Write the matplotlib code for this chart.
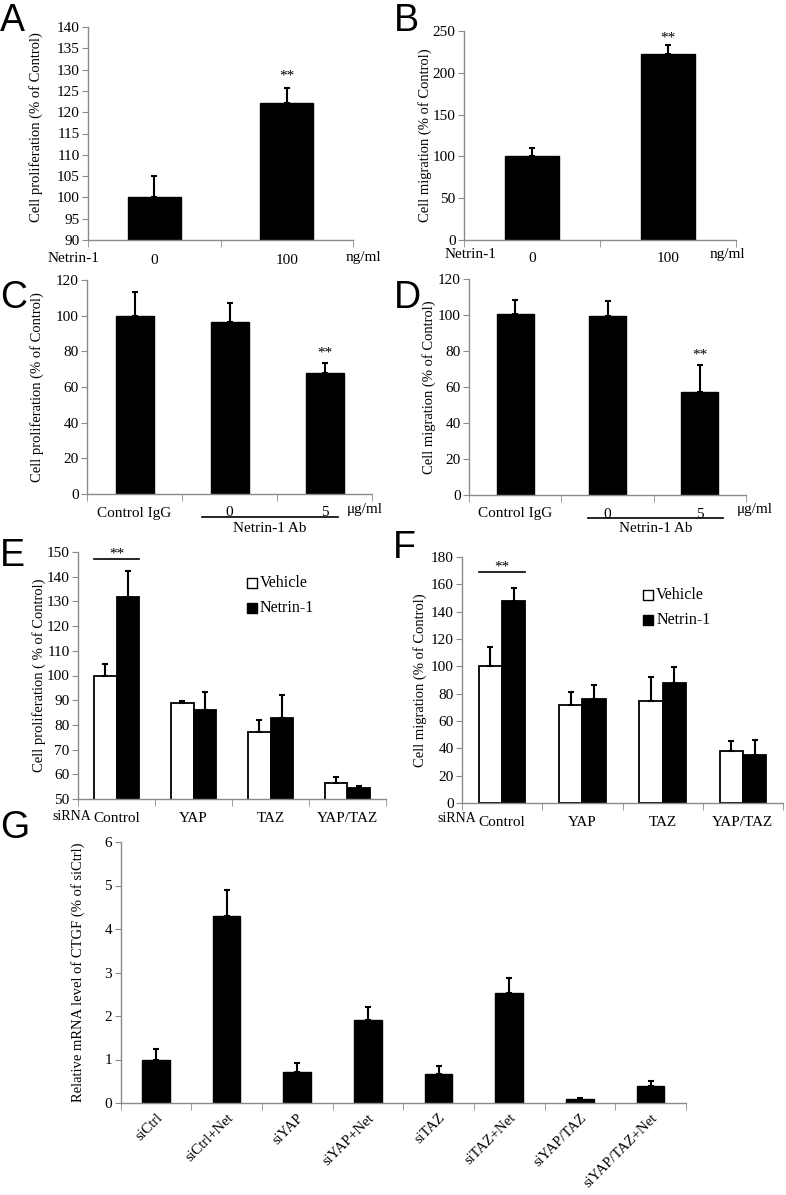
import matplotlib
matplotlib.use('Agg')
import matplotlib.pyplot as plt
import numpy as np

plt.rcParams['font.family'] = ['Liberation Serif', 'DejaVu Serif']

# ---------------- data ----------------
a_labels = ['0', '100']
a_vals = [100, 122.2]
a_err = [5.0, 3.4]

b_labels = ['0', '100']
b_vals = [100, 222]
b_err = [10, 11]

c_labels = ['Control IgG', '0', '5']
c_vals = [100, 96.5, 68]
c_err = [13, 10.5, 5.5]

d_labels = ['Control IgG', '0', '5']
d_vals = [100.3, 99.5, 57.5]
d_err = [8.3, 8.5, 14.5]

e_groups = ['Control', 'YAP', 'TAZ', 'YAP/TAZ']
e_vehicle = [100, 88.8, 77.2, 56.6]
e_vehicle_err = [4.7, 0.9, 4.6, 2.4]
e_netrin = [131.8, 86.1, 82.8, 54.6]
e_netrin_err = [10.5, 7.1, 9.5, 0.6]

f_groups = ['Control', 'YAP', 'TAZ', 'YAP/TAZ']
f_vehicle = [100, 71.5, 74.5, 37.8]
f_vehicle_err = [14, 9.5, 18, 7.5]
f_netrin = [147.5, 76.3, 87.8, 35.3]
f_netrin_err = [10, 10.2, 11.9, 10.7]

g_labels = ['siCtrl', 'siCtrl+Net', 'siYAP', 'siYAP+Net', 'siTAZ',
            'siTAZ+Net', 'siYAP/TAZ', 'siYAP/TAZ+Net']
g_vals = [1.0, 4.3, 0.72, 1.9, 0.66, 2.52, 0.1, 0.4]
g_err = [0.23, 0.6, 0.21, 0.31, 0.19, 0.36, 0.02, 0.11]

# ---------------- layout helpers ----------------
W, H = 786, 1195
fig = plt.figure(figsize=(W / 100, H / 100), dpi=100)
GRAY = '#8a8a8a'
TICK_FS = 11
LAB_FS = 10.5


def add_ax(l, t, r, b):
    return fig.add_axes([l / W, 1 - b / H, (r - l) / W, (b - t) / H])


def ftxt(x, y, s, **kw):
    kw.setdefault('ha', 'center')
    kw.setdefault('va', 'center')
    kw.setdefault('fontsize', TICK_FS)
    fig.text(x / W, 1 - y / H, s, **kw)


def fline(x1, x2, y):
    fig.add_artist(plt.Line2D([x1 / W, x2 / W], [1 - y / H, 1 - y / H],
                              color='black', lw=1.2))


def style(ax, n, labels, ylim, yticks, ylabel, lx, xpad=8, ly=0.5):
    for s in ['top', 'right']:
        ax.spines[s].set_visible(False)
    for s in ['left', 'bottom']:
        ax.spines[s].set_color(GRAY)
        ax.spines[s].set_linewidth(1.0)
    ax.set_xlim(-0.5, n - 0.5)
    ax.set_ylim(*ylim)
    ax.set_yticks(yticks)
    ax.tick_params(axis='y', direction='out', length=4, color=GRAY,
                   labelsize=TICK_FS, pad=2)
    ax.set_xticks(np.arange(n))
    ax.set_xticklabels(labels)
    ax.set_xticks(np.arange(n + 1) - 0.5, minor=True)
    ax.tick_params(axis='x', which='major', length=0, labelsize=TICK_FS, pad=xpad)
    ax.tick_params(axis='x', which='minor', length=5, color=GRAY, direction='out')
    ax.set_ylabel(ylabel, fontsize=LAB_FS, va='center')
    ax.yaxis.set_label_coords(lx, ly)


def simple_bars(ax, vals, errs, width=0.4):
    x = np.arange(len(vals))
    ax.bar(x, vals, width=width, color='black', edgecolor='black', zorder=2)
    ax.errorbar(x, vals, yerr=[np.zeros(len(vals)), errs], fmt='none',
                ecolor='black', elinewidth=1.5, capsize=2.5, capthick=1.5, zorder=3)


def pair_bars(ax, veh, veh_err, net, net_err, width=0.29):
    x = np.arange(len(veh))
    ax.bar(x - width / 2, veh, width=width, color='white', edgecolor='black',
           linewidth=1.3, zorder=2)
    ax.bar(x + width / 2, net, width=width, color='black', edgecolor='black',
           linewidth=1.3, zorder=2)
    ax.errorbar(x - width / 2, veh, yerr=[np.zeros(len(veh)), veh_err], fmt='none',
                ecolor='black', elinewidth=1.5, capsize=2.5, capthick=1.5, zorder=3)
    ax.errorbar(x + width / 2, net, yerr=[np.zeros(len(net)), net_err], fmt='none',
                ecolor='black', elinewidth=1.5, capsize=2.5, capthick=1.5, zorder=3)


def legend(ax, x, y1, y2):
    for yy, fc, lab in [(y1, 'white', 'Vehicle'), (y2, 'black', 'Netrin-1')]:
        ax.scatter([x], [yy], marker='s', s=60, facecolor=fc, edgecolor='black',
                   linewidths=1.0, transform=ax.transAxes, clip_on=False, zorder=4)
        ax.text(x + 0.025, yy, lab, transform=ax.transAxes, fontsize=TICK_FS + 0.5,
                ha='left', va='center')


def panel_letter(x, y, s):
    ftxt(x, y, s, fontsize=27, family='Liberation Sans', ha='left')


# ---------------- A ----------------
axA = add_ax(88, 27, 353, 240)
simple_bars(axA, a_vals, a_err)
style(axA, 2, a_labels, (90, 140), np.arange(90, 141, 5),
      'Cell proliferation (% of Control)', -0.195, xpad=10, ly=0.53)
axA.text(1, a_vals[1] + a_err[1] + 3, '**', ha='center', va='center', fontsize=11)
ftxt(73, 258, 'Netrin-1')
ftxt(363, 258, 'ng/ml')
panel_letter(0, 21, 'A')

# ---------------- B ----------------
axB = add_ax(464, 31, 736, 240)
simple_bars(axB, b_vals, b_err)
style(axB, 2, b_labels, (0, 250), np.arange(0, 251, 50),
      'Cell migration (% of Control)', -0.145, xpad=9, ly=0.5)
axB.text(1, b_vals[1] + b_err[1] + 9, '**', ha='center', va='center', fontsize=11)
ftxt(470, 255, 'Netrin-1')
ftxt(727, 255, 'ng/ml')
panel_letter(394, 21, 'B')

# ---------------- C ----------------
axC = add_ax(87, 280, 372, 494)
simple_bars(axC, c_vals, c_err)
style(axC, 3, c_labels, (0, 120), np.arange(0, 121, 20),
      'Cell proliferation (% of Control)', -0.175, xpad=9, ly=0.5)
axC.text(2, c_vals[2] + c_err[2] + 5.5, '**', ha='center', va='center', fontsize=11)
fline(202, 338, 517)
ftxt(270, 528, 'Netrin-1 Ab')
ftxt(365, 509, 'μg/ml')
panel_letter(0, 298, 'C')

# ---------------- D ----------------
axD = add_ax(469, 279, 746, 495)
simple_bars(axD, d_vals, d_err)
style(axD, 3, d_labels, (0, 120), np.arange(0, 121, 20),
      'Cell migration (% of Control)', -0.145, xpad=9, ly=0.5)
axD.text(2, d_vals[2] + d_err[2] + 6, '**', ha='center', va='center', fontsize=11)
fline(588, 723, 518)
ftxt(656, 529, 'Netrin-1 Ab')
ftxt(755, 509, 'μg/ml')
panel_letter(394, 298, 'D')

# ---------------- E ----------------
axE = add_ax(78, 552, 386, 799)
pair_bars(axE, e_vehicle, e_vehicle_err, e_netrin, e_netrin_err)
style(axE, 4, e_groups, (50, 150), np.arange(50, 151, 10),
      'Cell proliferation ( % of Control)', -0.125, xpad=9, ly=0.5)
axE.plot([-0.29, 0.29], [147, 147], color='black', lw=1.2, zorder=3)
axE.text(0, 149.3, '**', ha='center', va='center', fontsize=11)
legend(axE, 0.565, 0.875, 0.775)
ftxt(72, 816, 'siRNA', fontsize=10)
panel_letter(0, 556, 'E')

# ---------------- F ----------------
axF = add_ax(462, 557, 783, 803)
pair_bars(axF, f_vehicle, f_vehicle_err, f_netrin, f_netrin_err)
style(axF, 4, f_groups, (0, 180), np.arange(0, 181, 20),
      'Cell migration (% of Control)', -0.13, xpad=9, ly=0.5)
axF.plot([-0.29, 0.29], [169, 169], color='black', lw=1.2, zorder=3)
axF.text(0, 173, '**', ha='center', va='center', fontsize=11)
legend(axF, 0.58, 0.845, 0.745)
ftxt(457, 819, 'siRNA', fontsize=10)
panel_letter(393, 548, 'F')

# ---------------- G ----------------
axG = add_ax(120.5, 842, 686, 1103)
simple_bars(axG, g_vals, g_err, width=0.39)
style(axG, 8, [''] * 8, (0, 6), np.arange(0, 7, 1),
      'Relative mRNA level of CTGF (% of siCtrl)', -0.075, xpad=6, ly=0.5)
axG.set_xticklabels(g_labels, rotation=45, ha='right', va='top',
                    rotation_mode='anchor', fontsize=10.5)
panel_letter(0, 828, 'G')

fig.savefig('out.png', dpi=100)
